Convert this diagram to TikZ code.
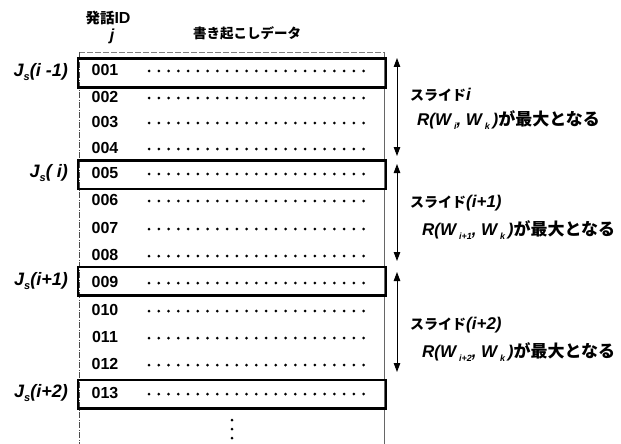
\documentclass[tikz,border=0pt]{standalone}
\usepackage{fontspec}
\setmainfont{Liberation Sans}
\newfontfamily\jp{Noto Sans CJK JP}
\usetikzlibrary{arrows.meta}
\newcommand{\mysub}[1]{\lower4pt\hbox{\fontsize{11}{11}\selectfont #1}}
\newcommand{\rsub}[1]{\,\lower4.5pt\hbox{\fontsize{9}{9}\selectfont #1}}
\begin{document}
\begin{tikzpicture}[x=1pt,y=-1pt,
  idtxt/.style={font=\fontsize{16}{16}\selectfont\bfseries, inner sep=0pt},
  lbl/.style={font=\fontsize{18}{18}\selectfont\bfseries\itshape, anchor=east, inner sep=0pt},
  rowbox/.style={draw, line width=2.5pt, minimum width=308pt, minimum height=28.5pt, anchor=west, inner sep=0pt},
  dotrow/.style={line width=3pt, line cap=round, dash pattern=on 0pt off 9.75pt},
  biarrow/.style={line width=0.9pt, {Triangle[length=9pt,width=6.5pt]}-{Triangle[length=9pt,width=6.5pt]}},
  rtxt/.style={font=\fontsize{17}{17}\selectfont\bfseries\itshape, anchor=west, inner sep=0pt},
  hdr/.style={font=\bfseries, inner sep=0pt}]
\useasboundingbox (0,0) rectangle (621,444);
% table frame
\coordinate (tl) at (79,52);
\coordinate (tr) at (384,52);
\coordinate (bl) at (79,444);
\coordinate (br) at (384,444);
\draw[gray, line width=0.6pt, dash pattern=on 6pt off 2pt] (tl) -- (tr);
\draw[black!70, line width=0.6pt, dash pattern=on 6pt off 1.5pt on 1pt off 1.5pt] (tl) -- (bl);
\draw[black!60, line width=0.6pt] (tr) -- (br);
% header
\node[hdr] (hid) at (108,18) {{\fontsize{14.5}{14.5}\selectfont\jp\bfseries 発話}{\fontsize{16}{16}\selectfont ID}};
\node[hdr, font=\fontsize{16}{16}\selectfont\bfseries\itshape] (hj) at (112,36) {j};
\node[hdr] (hdata) at (247,33) {\fontsize{13.5}{13.5}\selectfont\jp\bfseries 書き起こしデータ};
% rows
\foreach \n/\yy [count=\k] in {001/70,002/97,003/122,004/148,005/173,006/200,007/228,008/255,009/282,010/310,011/337,012/364,013/393} {
  \node[idtxt] (row\k) at (105,\yy) {\n};
  \coordinate (ds\k) at (149,\yy+1);
  \coordinate (de\k) at (373,\yy+1);
  \draw[dotrow] (ds\k) -- (de\k);
}
% vertical dots
\foreach \yy [count=\k] in {420,429,438} {
  \fill (232,\yy) circle (1.5pt) coordinate (vd\k);
}
% boxes
\node[rowbox] (b1) at (76.5,73) {};
\node[rowbox] (b2) at (76.5,174.5) {};
\node[rowbox] (b3) at (76.5,281) {};
\node[rowbox] (b4) at (76.5,394) {};
% left labels
\node[lbl] (j1) at (68,72) {J\mysub{s}(i -1)};
\node[lbl] (j2) at (68,173) {J\mysub{s}( i)};
\node[lbl] (j3) at (68,281) {J\mysub{s}(i+1)};
\node[lbl] (j4) at (68,393) {J\mysub{s}(i+2)};
% arrows
\coordinate (a1t) at (397,58);
\coordinate (a1b) at (397,156);
\coordinate (a2t) at (397,164);
\coordinate (a2b) at (397,261);
\coordinate (a3t) at (397,272);
\coordinate (a3b) at (397,372);
\draw[biarrow] (a1t) -- (a1b);
\draw[biarrow] (a2t) -- (a2b);
\draw[biarrow] (a3t) -- (a3b);
% right texts
\node[rtxt] (s1) at (410,95) {{\fontsize{14}{14}\selectfont\jp\bfseries スライド}i};
\node[rtxt] (r1) at (417,120) {R(W\rsub{i}, W\rsub{k}\,){\jp\bfseries が最大となる}};
\node[rtxt] (s2) at (410,203) {{\fontsize{14}{14}\selectfont\jp\bfseries スライド}(i+1)};
\node[rtxt] (r2) at (422,230) {R(W\rsub{i+1}, W\rsub{k}\,){\jp\bfseries が最大となる}};
\node[rtxt] (s3) at (410,325) {{\fontsize{14}{14}\selectfont\jp\bfseries スライド}(i+2)};
\node[rtxt] (r3) at (422,352) {R(W\rsub{i+2}, W\rsub{k}\,){\jp\bfseries が最大となる}};
\end{tikzpicture}
\end{document}
